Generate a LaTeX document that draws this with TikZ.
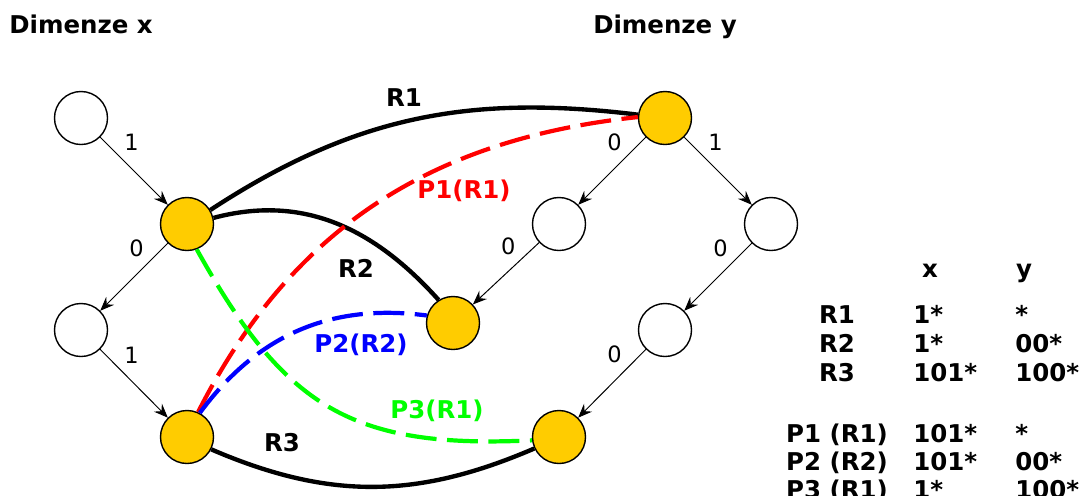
\documentclass[tikz,border=0pt]{standalone}
\usepackage{fontspec}
\setmainfont{DejaVu Sans}
\usetikzlibrary{arrows.meta}
\definecolor{gold}{RGB}{255,204,0}
\definecolor{pgreen}{RGB}{0,255,0}
\tikzset{
  leaf/.style={circle, draw, line width=1pt, minimum size=1.325cm, inner sep=0pt, fill=white},
  hit/.style={leaf, fill=gold},
  bit/.style={font=\fontsize{16}{19}\selectfont},
  lbl/.style={font=\fontsize{17.4}{20}\selectfont\bfseries},
  cell/.style={lbl, inner sep=0pt},
  rule/.style={line width=3.1pt},
  probe/.style={line width=3pt, dash pattern=on 22pt off 7.5pt}
}
\begin{document}
\begin{tikzpicture}[x=0.025cm, y=-0.025cm, >={Stealth[length=10pt,width=8pt,inset=3.5pt]}]
\useasboundingbox (0,0) rectangle (1082,495);
% titles
\node[lbl, anchor=base] (tx) at (81,33) {Dimenze x};
\node[lbl, anchor=base] (ty) at (665,33) {Dimenze y};
% tree for x
\node[leaf] (x0) at (81,118) {};
\node[hit] (x1) at (187,224) {};
\node[leaf] (x2) at (81,330) {};
\node[hit] (x3) at (187,437) {};
% tree for y
\node[hit] (y0) at (665,118) {};
\node[leaf] (y1) at (559,224) {};
\node[leaf] (y2) at (771,224) {};
\node[hit] (y3) at (453,323) {};
\node[leaf] (y4) at (665,330) {};
\node[hit] (y5) at (559,437) {};
\foreach \a/\b/\t/\s in {x0/x1/1/south west, x1/x2/0/south east, x2/x3/1/south west,
  y0/y1/0/south east, y0/y2/1/south west, y1/y3/0/south east, y2/y4/0/south east, y4/y5/0/south east}
  {\draw [->, line width=0.7pt] (\a) -- (\b) node [bit, pos=0.28, anchor=\s] {\t};}
% ranges
\draw [rule] (x1.31) .. controls (354,116) and (469,94) .. (y0.173);
\draw [rule] (x1.13) .. controls (303,194) and (374,228) .. (y3.122);
\draw [rule] (x3.-27) .. controls (331,501) and (419,498) .. (y5.205);
\node[lbl, anchor=base] (r1) at (404,106) {R1};
\node[lbl, anchor=base] (r2) at (356,277) {R2};
\node[lbl, anchor=base] (r3) at (282,451) {R3};
% points
\draw [probe, red] (x3.66) .. controls (292,227) and (433,139) .. (y0.178);
\draw [probe, blue] (x3.62) .. controls (258,334) and (332,303) .. (y3.164);
\draw [probe, pgreen] (x1.-69) .. controls (285,408) and (352,449) .. (y5.187);
\node[lbl, anchor=base, red] (p1) at (464,198) {P1(R1)};
\node[lbl, anchor=base, blue] (p2) at (361,352) {P2(R2)};
\node[lbl, anchor=base, pgreen] (p3) at (437,418) {P3(R1)};
% table
\node[cell, anchor=base] (hx) at (930,277) {x};
\node[cell, anchor=base] (hy) at (1024,277) {y};
\foreach \n/\vx/\vy/\b [count=\i] in {R1/1*/*/323, R2/1*/00*/352, R3/101*/100*/381,
  P1 (R1)/101*/*/442, P2 (R2)/101*/00*/470, P3 (R1)/1*/100*/498}
{
  \node[cell, anchor=base] (n\i) at (837,\b) {\n};
  \node[cell, anchor=base west] (vx\i) at (913,\b) {\vx};
  \node[cell, anchor=base west] (vy\i) at (1015,\b) {\vy};
}
\end{tikzpicture}
\end{document}
